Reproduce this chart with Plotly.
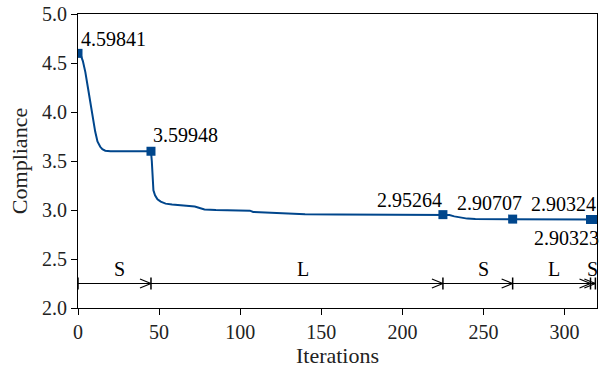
import plotly.graph_objects as go

# Convergence curve
iters = [0, 1.5, 3, 4.5, 6, 7.6, 9, 10.6, 12, 13.7, 15, 16.8, 20, 30, 45,
         45.5, 46, 46.5, 47.5, 49, 51, 54, 58, 62, 70, 72, 75, 78, 85, 95,
         106, 108, 115, 120, 130, 140, 160, 200, 225,
         229, 232, 236, 240, 245, 268, 316, 319]
compliance = [4.598, 4.59, 4.52, 4.41, 4.26, 4.10, 3.95, 3.80, 3.70, 3.645, 3.62, 3.605, 3.60, 3.60, 3.599,
              3.50, 3.30, 3.20, 3.15, 3.11, 3.085, 3.065, 3.055, 3.05, 3.045, 3.035, 3.02, 3.005, 3.0, 2.995,
              2.993, 2.98, 2.975, 2.965, 2.96, 2.956, 2.954, 2.953, 2.953,
              2.948, 2.935, 2.922, 2.912, 2.908, 2.907, 2.903, 2.903]

# Phase switch markers
mark_x = [0, 45, 225, 268, 316, 319]
mark_y = [4.59841, 3.59948, 2.95264, 2.90707, 2.90324, 2.90323]
mark_text = ["4.59841", "3.59948", "2.95264", "2.90707", "2.90324", "2.90323"]
# label positions (data coords)
label_x = [21.7, 66.0, 204.4, 253.5, 299.5, 301.4]
label_y = [4.745, 3.77, 3.098, 3.067, 3.057, 2.711]

# Phases
bounds = [0, 45, 225, 268, 316, 319]
phase_labels = ["S", "L", "S", "L", "S"]
phase_label_x = [25.5, 138.5, 250, 293.5, 317]
phase_label_y = 2.396
arrow_y = 2.25

blue = "#00468C"
font = "Liberation Serif"

fig = go.Figure()
fig.add_trace(go.Scatter(x=iters, y=compliance, mode="lines",
                         line=dict(color=blue, width=2), showlegend=False))
fig.add_trace(go.Scatter(x=mark_x, y=mark_y, mode="markers",
                         marker=dict(symbol="square", size=9, color=blue),
                         showlegend=False))

for tx, ty, t in zip(label_x, label_y, mark_text):
    fig.add_annotation(x=tx, y=ty, text=t, showarrow=False,
                       xanchor="center", yanchor="middle",
                       font=dict(family=font, size=20, color="black"))

shapes = []
for i in range(len(bounds) - 1):
    a, b = bounds[i], bounds[i + 1]
    shapes.append(dict(type="line", x0=a, x1=b, y0=arrow_y, y1=arrow_y,
                       line=dict(color="black", width=1.2)))
    # arrow head at b
    for s in (-1, 1):
        shapes.append(dict(type="line", xsizemode="pixel", ysizemode="pixel",
                           xanchor=b, yanchor=arrow_y,
                           x0=-11, x1=0, y0=4.5 * s, y1=0,
                           line=dict(color="black", width=1.2)))
for b in bounds:
    shapes.append(dict(type="line", xsizemode="scaled", ysizemode="pixel",
                       yanchor=arrow_y, x0=b, x1=b, y0=-6, y1=6,
                       line=dict(color="black", width=1.5)))
fig.update_layout(shapes=shapes)

for lx, lt in zip(phase_label_x, phase_labels):
    fig.add_annotation(x=lx, y=phase_label_y, text=lt, showarrow=False,
                       xanchor="center", yanchor="middle",
                       font=dict(family=font, size=20, color="black"))

axis_common = dict(showline=True, linecolor="black", linewidth=1, mirror=True,
                   ticks="outside", ticklen=6, tickwidth=1, tickcolor="black",
                   showgrid=False, zeroline=False,
                   tickfont=dict(family=font, size=20, color="#222"))
fig.update_xaxes(range=[0, 320], tickvals=[0, 50, 100, 150, 200, 250, 300],
                 title=dict(text="Iterations", font=dict(family=font, size=22, color="#222"), standoff=4),
                 **axis_common)
fig.update_yaxes(range=[2.0, 5.0], tickvals=[2.0, 2.5, 3.0, 3.5, 4.0, 4.5, 5.0],
                 tickformat=".1f",
                 title=dict(text="Compliance", font=dict(family=font, size=22, color="#222"), standoff=8),
                 **axis_common)

fig.update_layout(width=601, height=369,
                  margin=dict(l=78, r=3, t=12, b=61),
                  paper_bgcolor="white", plot_bgcolor="white")

fig.write_html("out.html",
               config={"displayModeBar": False},
               post_script="document.body.style.margin='0';document.body.style.overflow='hidden';")
